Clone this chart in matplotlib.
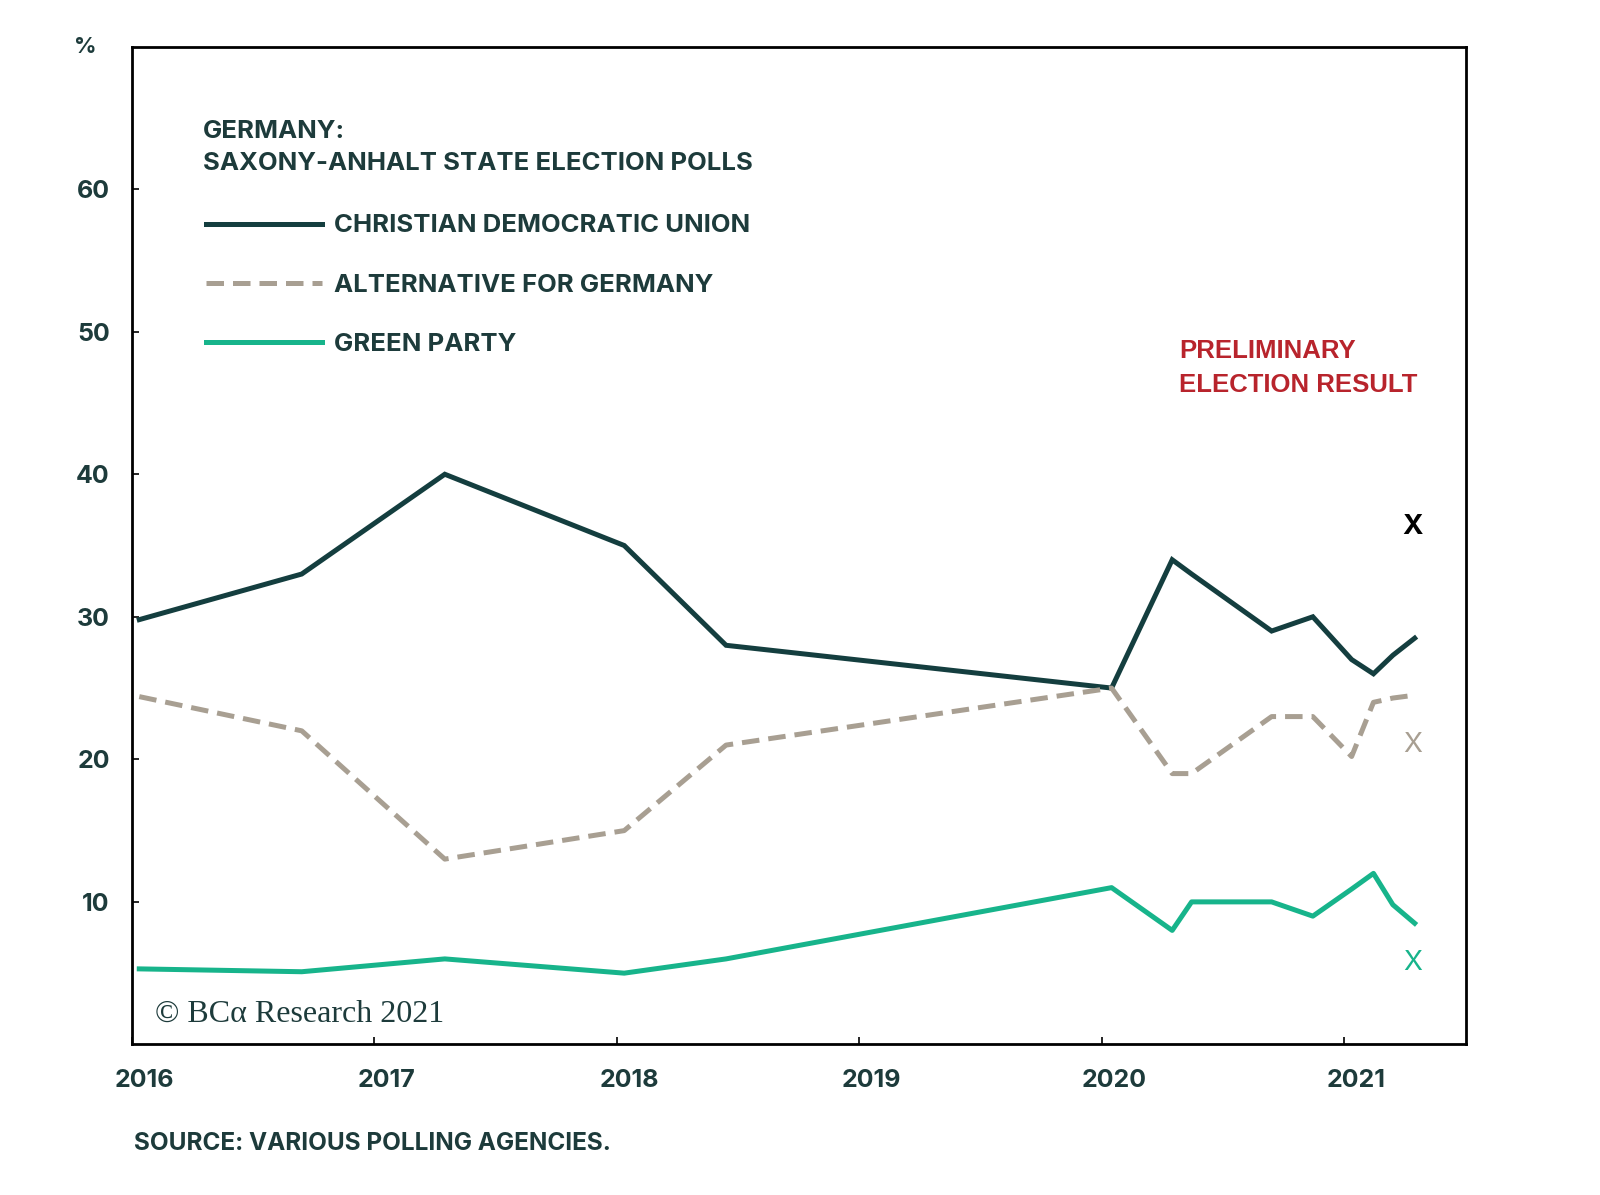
import matplotlib.pyplot as plt
from matplotlib.transforms import ScaledTranslation

# poll dates (decimal years) and party shares, %
poll_dates = [2016.03, 2016.70, 2017.29, 2018.03, 2018.45, 2020.04, 2020.29,
              2020.37, 2020.70, 2020.87, 2021.03, 2021.12, 2021.20, 2021.29]
cdu = [29.8, 33.0, 40.0, 35.0, 28.0, 25.0, 34.0, 33.0, 29.0, 30.0, 27.0, 26.0, 27.3, 28.5]
afd = [24.4, 22.0, 13.0, 15.0, 21.0, 25.0, 19.0, 19.0, 23.0, 23.0, 20.2, 24.0, 24.3, 24.5]
green = [5.3, 5.1, 6.0, 5.0, 6.0, 11.0, 8.0, 10.0, 10.0, 9.0, 10.9, 12.0, 9.8, 8.5]

# preliminary election result
result_date = 2021.28
result_vals = [36.3, 21.0, 5.7]

series_labels = ["CHRISTIAN DEMOCRATIC UNION", "ALTERNATIVE FOR GERMANY", "GREEN PARTY"]
years = [2016, 2017, 2018, 2019, 2020, 2021]
yticks = [10, 20, 30, 40, 50, 60]

TEXT = "#1d3b3b"
CDU_C = "#143e3f"
AFD_C = "#a89f92"
GRN_C = "#17b48b"
RED = "#b8242c"

plt.rcParams['font.family'] = ['Inter', 'DejaVu Sans']

fig = plt.figure(figsize=(16, 11.95), dpi=100)
ax = fig.add_axes([0.0825, 0.126, 0.8335, 0.835])

lw = 3.6
ax.plot(poll_dates, cdu, color=CDU_C, lw=lw, label=series_labels[0], solid_joinstyle='miter')
ax.plot(poll_dates, afd, color=AFD_C, lw=lw, label=series_labels[1], dashes=(3.5, 1.8))
ax.plot(poll_dates, green, color=GRN_C, lw=lw, label=series_labels[2])

x_styles = [("black", "bold"), (AFD_C, "normal"), (GRN_C, "normal")]
for v, (c, w) in zip(result_vals, x_styles):
    ax.text(result_date, v, "X", color=c, fontsize=20, fontweight=w, ha='center', va='center')

ax.set_xlim(2016, 2021.5)
ax.set_ylim(0, 70)
ax.set_xticks(years)
ax.set_xticklabels([str(y) for y in years])
ax.set_yticks(yticks)
ax.tick_params(direction='in', length=5, width=1.2, pad=16, labelsize=18, labelcolor=TEXT)
ax.tick_params(axis='x', pad=18)
for lab in ax.get_xticklabels() + ax.get_yticklabels():
    lab.set_fontweight('bold')
offset = ScaledTranslation(12 / 100, 0, fig.dpi_scale_trans)
for lab in ax.get_xticklabels():
    lab.set_transform(lab.get_transform() + offset)

for s in ax.spines.values():
    s.set_linewidth(2)
    s.set_color("black")

ax.text(-0.035, 1.0, "%", transform=ax.transAxes, ha='center', va='center',
        fontsize=16, fontweight='bold', color=TEXT)

ax.text(0.0535, 0.899, "GERMANY:\nSAXONY-ANHALT STATE ELECTION POLLS", transform=ax.transAxes,
        ha='left', va='center', fontsize=18.5, fontweight='bold', color=TEXT, linespacing=1.47)

leg = ax.legend(loc='center left', bbox_to_anchor=(0.0555, 0.7606), frameon=False,
                fontsize=18.5, handlelength=4.5, handletextpad=0.5,
                labelspacing=1.42, borderpad=0, borderaxespad=0)
for t in leg.get_texts():
    t.set_color(TEXT)
    t.set_fontweight('bold')

ax.text(0.785, 0.678, "PRELIMINARY\nELECTION RESULT", transform=ax.transAxes,
        ha='left', va='center', fontsize=18.5, fontweight='bold', color=RED, linespacing=1.5,
        family=['Liberation Sans', 'DejaVu Sans'])

ax.text(0.017, 0.030, "\u00a9 BC\u03b1 Research 2021", transform=ax.transAxes,
        ha='left', va='center', fontsize=23, color=TEXT, family=['Liberation Serif', 'DejaVu Serif'])

fig.text(0.084, 0.043, "SOURCE: VARIOUS POLLING AGENCIES.", ha='left', va='center',
         fontsize=17.5, fontweight='bold', color=TEXT)

fig.savefig("out.png", dpi=100)
